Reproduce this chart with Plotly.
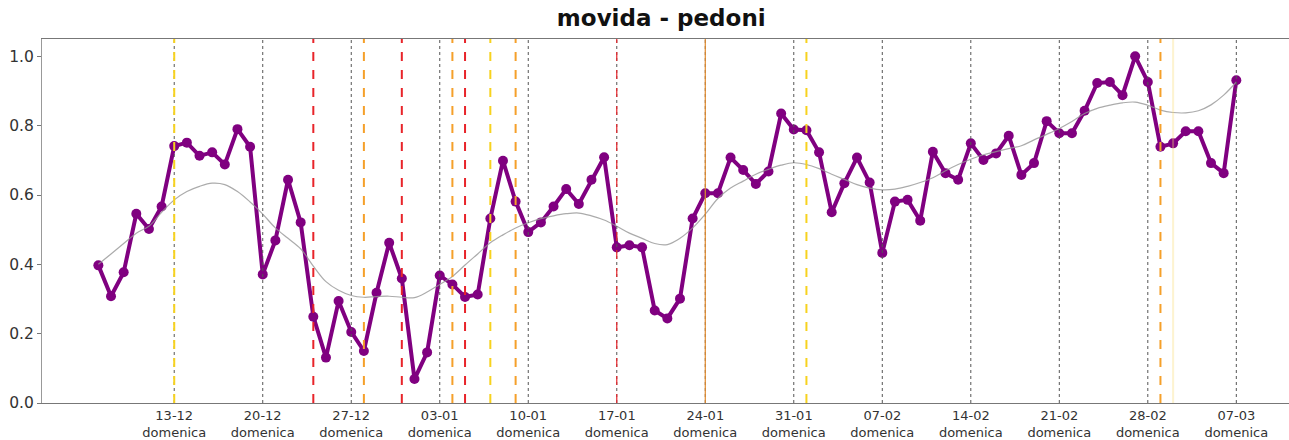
import pandas as pd
import plotly.graph_objects as go

# ---------------- data ----------------
start_date = "2020-12-07"
n_days = 91

pedoni = [
    0.397, 0.308, 0.377, 0.546, 0.502, 0.567, 0.741,
    0.751, 0.713, 0.723, 0.688, 0.790, 0.739, 0.371,
    0.469, 0.644, 0.521, 0.249, 0.131, 0.294, 0.205,
    0.150, 0.318, 0.462, 0.359, 0.069, 0.146, 0.368,
    0.342, 0.306, 0.313, 0.532, 0.699, 0.581, 0.493,
    0.521, 0.567, 0.617, 0.574, 0.644, 0.709, 0.449,
    0.455, 0.449, 0.267, 0.244, 0.301, 0.532, 0.605,
    0.605, 0.708, 0.672, 0.632, 0.668, 0.835, 0.789,
    0.787, 0.723, 0.550, 0.634, 0.708, 0.636, 0.433,
    0.581, 0.586, 0.526, 0.725, 0.663, 0.644, 0.749,
    0.701, 0.720, 0.771, 0.658, 0.692, 0.813, 0.778,
    0.778, 0.843, 0.923, 0.926, 0.888, 1.000, 0.926,
    0.739, 0.749, 0.784, 0.784, 0.692, 0.663, 0.931,
]

trend = [
    0.400, 0.430, 0.460, 0.490, 0.510, 0.550, 0.586,
    0.610, 0.625, 0.634, 0.630, 0.610, 0.580, 0.545,
    0.505, 0.475, 0.445, 0.395, 0.350, 0.325, 0.310,
    0.305, 0.307, 0.308, 0.305, 0.304, 0.320, 0.342,
    0.365, 0.398, 0.430, 0.462, 0.485, 0.505, 0.520,
    0.532, 0.540, 0.546, 0.548, 0.540, 0.528, 0.510,
    0.490, 0.475, 0.460, 0.457, 0.475, 0.505, 0.545,
    0.590, 0.620, 0.640, 0.660, 0.674, 0.686, 0.693,
    0.688, 0.676, 0.660, 0.645, 0.630, 0.620, 0.615,
    0.617, 0.625, 0.636, 0.650, 0.670, 0.688, 0.703,
    0.716, 0.725, 0.734, 0.742, 0.759, 0.775, 0.792,
    0.812, 0.835, 0.850, 0.859, 0.866, 0.868, 0.859,
    0.845, 0.838, 0.837, 0.843, 0.860, 0.888, 0.926,
]

sundays = ["2020-12-13", "2020-12-20", "2020-12-27", "2021-01-03", "2021-01-10",
           "2021-01-17", "2021-01-24", "2021-01-31", "2021-02-07", "2021-02-14",
           "2021-02-21", "2021-02-28", "2021-03-07"]
sunday_labels = ["13-12", "20-12", "27-12", "03-01", "10-01", "17-01", "24-01",
                 "31-01", "07-02", "14-02", "21-02", "28-02", "07-03"]
weekday_name = "domenica"

red_events = ["2020-12-24", "2020-12-31", "2021-01-05"]
red_thin_events = ["2021-01-17"]
orange_events = ["2020-12-28", "2021-01-04", "2021-01-09", "2021-03-01"]
orange_thin_events = ["2021-01-24"]
yellow_events = ["2020-12-13", "2021-01-07", "2021-02-01"]
faint_yellow_events = ["2021-03-02"]

title_text = "movida - pedoni"
y_ticks = [0.0, 0.2, 0.4, 0.6, 0.8, 1.0]

# ---------------- figure ----------------
dates = pd.date_range(start_date, periods=n_days, freq="D")

fig = go.Figure()
fig.add_trace(go.Scatter(
    x=dates, y=pedoni, mode="lines+markers",
    line=dict(color="#800080", width=4),
    marker=dict(color="#800080", size=10),
    showlegend=False,
))
fig.add_trace(go.Scatter(
    x=dates, y=trend, mode="lines", line_shape="spline",
    line=dict(color="rgba(150,150,150,0.8)", width=1.2),
    showlegend=False,
))

for d in sundays:
    fig.add_vline(x=d, line=dict(color="#555555", width=1, dash="dot"))
for d in red_events:
    fig.add_vline(x=d, line=dict(color="#E8242A", width=2, dash="dash"))
for d in red_thin_events:
    fig.add_vline(x=d, line=dict(color="#E8242A", width=1.2, dash="dash"))
for d in orange_events:
    fig.add_vline(x=d, line=dict(color="#F5A02A", width=2, dash="dash"))
for d in orange_thin_events:
    fig.add_vline(x=d, line=dict(color="#E0892C", width=1.2))
for d in yellow_events:
    fig.add_vline(x=d, line=dict(color="#F7D21E", width=2, dash="dash"))
for d in faint_yellow_events:
    fig.add_vline(x=d, line=dict(color="rgba(250,220,120,0.35)", width=2))

fig.update_layout(
    width=1289, height=440,
    margin=dict(l=42, r=0, t=39, b=37, autoexpand=False),
    paper_bgcolor="white", plot_bgcolor="white",
    font=dict(family="DejaVu Sans", color="#333333"),
    title=dict(text="<b>" + title_text + "</b>", x=0.513, xanchor="center",
               y=0.959, yanchor="middle", font=dict(size=23, color="#111111")),
)
fig.update_xaxes(
    type="date",
    range=["2020-12-02 13:00", "2021-03-11 04:00"],
    tickvals=sundays,
    ticktext=[f"{lab}<br>{weekday_name}" for lab in sunday_labels],
    tickfont=dict(size=13, color="#333333"),
    showgrid=False, zeroline=False, automargin=False,
    showline=True, linecolor="#777777", linewidth=1.2, mirror=True,
    ticks="",
)
fig.update_yaxes(
    range=[0, 1.05],
    tickvals=y_ticks,
    ticktext=[f"{v:.1f}" for v in y_ticks],
    tickfont=dict(size=15.5, color="#333333"),
    showgrid=False, zeroline=False, automargin=False,
    showline=True, linecolor="#999999", linewidth=1.2,
    ticks="outside", ticklen=4, tickcolor="#777777",
)

fig.write_html(
    "out.html",
    config={"displayModeBar": False},
    post_script="document.body.style.margin='0';document.body.style.overflow='hidden';",
)
